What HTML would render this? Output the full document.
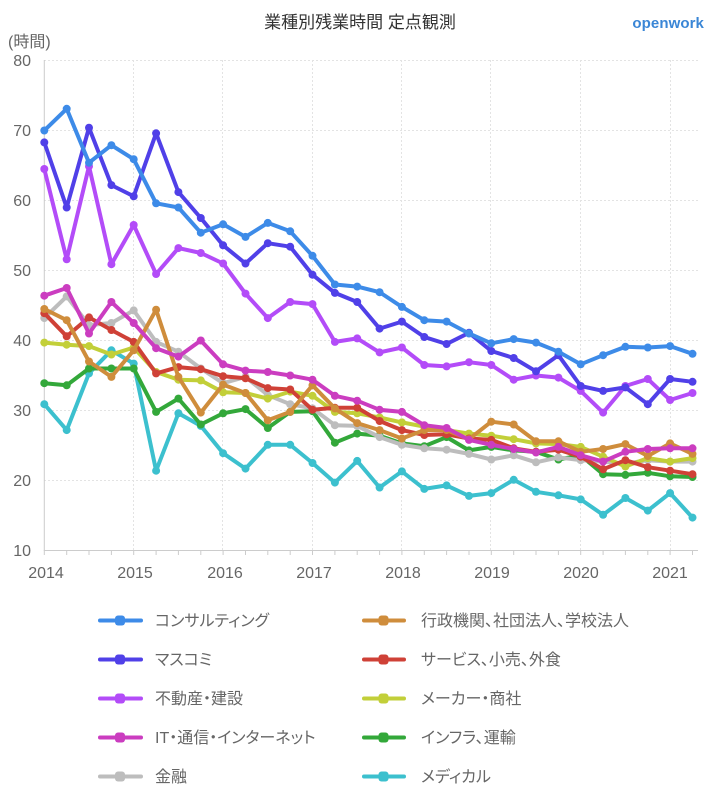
<!DOCTYPE html>
<html><head><meta charset="utf-8">
<style>
html,body{margin:0;padding:0;background:#fff;}
body{width:724px;height:800px;overflow:hidden;}
svg{display:block;}
text{font-family:"Liberation Sans","Noto Sans CJK JP",sans-serif;}
.palt{font-feature-settings:"palt" 1;}
</style></head>
<body>
<svg width="724" height="800" viewBox="0 0 724 800" xmlns="http://www.w3.org/2000/svg">
<defs>
<marker id="m0" markerUnits="userSpaceOnUse" markerWidth="10" markerHeight="10" refX="5" refY="5"><circle cx="5" cy="5" r="4" fill="#3d8be8"/></marker>
<marker id="m1" markerUnits="userSpaceOnUse" markerWidth="10" markerHeight="10" refX="5" refY="5"><circle cx="5" cy="5" r="4" fill="#5040e8"/></marker>
<marker id="m2" markerUnits="userSpaceOnUse" markerWidth="10" markerHeight="10" refX="5" refY="5"><circle cx="5" cy="5" r="4" fill="#b34cf8"/></marker>
<marker id="m3" markerUnits="userSpaceOnUse" markerWidth="10" markerHeight="10" refX="5" refY="5"><circle cx="5" cy="5" r="4" fill="#cb3dc0"/></marker>
<marker id="m4" markerUnits="userSpaceOnUse" markerWidth="10" markerHeight="10" refX="5" refY="5"><circle cx="5" cy="5" r="4" fill="#bdbdbd"/></marker>
<marker id="m5" markerUnits="userSpaceOnUse" markerWidth="10" markerHeight="10" refX="5" refY="5"><circle cx="5" cy="5" r="4" fill="#cf8d3c"/></marker>
<marker id="m6" markerUnits="userSpaceOnUse" markerWidth="10" markerHeight="10" refX="5" refY="5"><circle cx="5" cy="5" r="4" fill="#cf4137"/></marker>
<marker id="m7" markerUnits="userSpaceOnUse" markerWidth="10" markerHeight="10" refX="5" refY="5"><circle cx="5" cy="5" r="4" fill="#c2cf39"/></marker>
<marker id="m8" markerUnits="userSpaceOnUse" markerWidth="10" markerHeight="10" refX="5" refY="5"><circle cx="5" cy="5" r="4" fill="#33a83a"/></marker>
<marker id="m9" markerUnits="userSpaceOnUse" markerWidth="10" markerHeight="10" refX="5" refY="5"><circle cx="5" cy="5" r="4" fill="#3cc0ce"/></marker>
</defs>

<!-- title -->
<text x="360" y="28" font-size="17" fill="#333" text-anchor="middle" class="palt">業種別残業時間 定点観測</text>
<text x="704" y="28" font-size="15" fill="#3a86d6" text-anchor="end" font-weight="bold" letter-spacing="0.1">openwork</text>
<text x="8" y="47" font-size="16" fill="#666">(時間)</text>

<!-- grid -->
<g stroke="#e3e3e3" stroke-width="1" stroke-dasharray="2,2">
<line x1="44" y1="60.5" x2="698" y2="60.5"/>
<line x1="44" y1="130.5" x2="698" y2="130.5"/>
<line x1="44" y1="200.5" x2="698" y2="200.5"/>
<line x1="44" y1="270.5" x2="698" y2="270.5"/>
<line x1="44" y1="340.5" x2="698" y2="340.5"/>
<line x1="44" y1="410.5" x2="698" y2="410.5"/>
<line x1="44" y1="480.5" x2="698" y2="480.5"/>
<line x1="133.5" y1="60" x2="133.5" y2="550"/>
<line x1="222.5" y1="60" x2="222.5" y2="550"/>
<line x1="312.5" y1="60" x2="312.5" y2="550"/>
<line x1="401.5" y1="60" x2="401.5" y2="550"/>
<line x1="490.5" y1="60" x2="490.5" y2="550"/>
<line x1="580.5" y1="60" x2="580.5" y2="550"/>
<line x1="670.5" y1="60" x2="670.5" y2="550"/>
</g>
<g stroke="#cccccc" stroke-width="1">
<line x1="44.3" y1="60" x2="44.3" y2="551"/>
<line x1="44" y1="550.5" x2="698" y2="550.5"/>
</g>
<g stroke="#cccccc" stroke-width="1">
<line x1="44.3" y1="550" x2="44.3" y2="555"/><line x1="66.7" y1="550" x2="66.7" y2="555"/><line x1="89" y1="550" x2="89" y2="555"/><line x1="111.4" y1="550" x2="111.4" y2="555"/><line x1="133.7" y1="550" x2="133.7" y2="555"/><line x1="156.1" y1="550" x2="156.1" y2="555"/><line x1="178.4" y1="550" x2="178.4" y2="555"/><line x1="200.8" y1="550" x2="200.8" y2="555"/><line x1="223.1" y1="550" x2="223.1" y2="555"/><line x1="245.5" y1="550" x2="245.5" y2="555"/><line x1="267.8" y1="550" x2="267.8" y2="555"/><line x1="290.2" y1="550" x2="290.2" y2="555"/><line x1="312.5" y1="550" x2="312.5" y2="555"/><line x1="334.9" y1="550" x2="334.9" y2="555"/><line x1="357.2" y1="550" x2="357.2" y2="555"/><line x1="379.6" y1="550" x2="379.6" y2="555"/><line x1="401.9" y1="550" x2="401.9" y2="555"/><line x1="424.3" y1="550" x2="424.3" y2="555"/><line x1="446.6" y1="550" x2="446.6" y2="555"/><line x1="469" y1="550" x2="469" y2="555"/><line x1="491.3" y1="550" x2="491.3" y2="555"/><line x1="513.7" y1="550" x2="513.7" y2="555"/><line x1="536" y1="550" x2="536" y2="555"/><line x1="558.4" y1="550" x2="558.4" y2="555"/><line x1="580.7" y1="550" x2="580.7" y2="555"/><line x1="603.1" y1="550" x2="603.1" y2="555"/><line x1="625.4" y1="550" x2="625.4" y2="555"/><line x1="647.8" y1="550" x2="647.8" y2="555"/><line x1="670.1" y1="550" x2="670.1" y2="555"/><line x1="692.5" y1="550" x2="692.5" y2="555"/>
</g>

<!-- y labels -->
<g font-size="16" fill="#666" text-anchor="end">
<text x="31" y="66">80</text>
<text x="31" y="136">70</text>
<text x="31" y="206">60</text>
<text x="31" y="276">50</text>
<text x="31" y="346">40</text>
<text x="31" y="416">30</text>
<text x="31" y="486">20</text>
<text x="31" y="556">10</text>
</g>
<!-- x labels -->
<g font-size="16" fill="#666" text-anchor="middle">
<text x="46" y="578">2014</text>
<text x="135" y="578">2015</text>
<text x="225" y="578">2016</text>
<text x="314" y="578">2017</text>
<text x="403" y="578">2018</text>
<text x="492" y="578">2019</text>
<text x="581" y="578">2020</text>
<text x="670" y="578">2021</text>
</g>

<!-- series -->
<g fill="none" stroke-width="4" stroke-linejoin="round" stroke-linecap="round">
<polyline stroke="#3cc0ce" marker-start="url(#m9)" marker-mid="url(#m9)" marker-end="url(#m9)" points="44.3,404.2 66.7,430.1 89,373.4 111.4,350.3 133.7,363.6 156.1,470.7 178.4,413.3 200.8,425.9 223.1,453.2 245.5,468.6 267.8,444.8 290.2,444.8 312.5,463 334.9,482.6 357.2,460.9 379.6,487.5 401.9,471.4 424.3,488.9 446.6,485.4 469,495.9 491.3,493.1 513.7,479.8 536,491.8 558.4,495.3 580.7,499.4 603.1,514.8 625.4,498 647.8,510.6 670.1,493.1 692.5,517.6"/>
<polyline stroke="#33a83a" marker-start="url(#m8)" marker-mid="url(#m8)" marker-end="url(#m8)" points="44.3,383.2 66.7,385.3 89,368.5 111.4,368.5 133.7,368.5 156.1,411.9 178.4,398.6 200.8,424.5 223.1,413.3 245.5,409.1 267.8,428 290.2,411.9 312.5,411.2 334.9,442.7 357.2,433.6 379.6,435.7 401.9,443.4 424.3,446.2 446.6,437.1 469,450.4 491.3,446.9 513.7,450.4 536,451.8 558.4,459.5 580.7,455.3 603.1,474.2 625.4,474.9 647.8,472.8 670.1,476.3 692.5,477"/>
<polyline stroke="#bdbdbd" marker-start="url(#m4)" marker-mid="url(#m4)" marker-end="url(#m4)" points="44.3,318.1 66.7,296.4 89,325.1 111.4,323 133.7,310.4 156.1,341.9 178.4,351.7 200.8,368.5 223.1,383.2 245.5,376.9 267.8,395.1 290.2,404.2 312.5,408.4 334.9,425.2 357.2,425.9 379.6,437.1 401.9,444.8 424.3,448.3 446.6,449.7 469,453.9 491.3,459.5 513.7,455.3 536,462.3 558.4,457.4 580.7,460.2 603.1,461.6 625.4,463.7 647.8,460.2 670.1,461.6 692.5,461.6"/>
<polyline stroke="#c2cf39" marker-start="url(#m7)" marker-mid="url(#m7)" marker-end="url(#m7)" points="44.3,342.6 66.7,344.7 89,346.1 111.4,354.5 133.7,347.5 156.1,372 178.4,379.7 200.8,380.4 223.1,392.3 245.5,393 267.8,398.6 290.2,391.6 312.5,395.8 334.9,411.9 357.2,413.3 379.6,417.5 401.9,422.4 424.3,426.6 446.6,430.1 469,433.6 491.3,435.7 513.7,439.2 536,443.4 558.4,444.1 580.7,446.9 603.1,456.7 625.4,466.5 647.8,458.1 670.1,461.6 692.5,458.1"/>
<polyline stroke="#cf4137" marker-start="url(#m6)" marker-mid="url(#m6)" marker-end="url(#m6)" points="44.3,313.2 66.7,336.3 89,317.4 111.4,330 133.7,341.9 156.1,373.4 178.4,367.1 200.8,369.2 223.1,376.2 245.5,378.3 267.8,388.1 290.2,389.5 312.5,409.8 334.9,407.7 357.2,407.7 379.6,421 401.9,430.1 424.3,435 446.6,434.3 469,438.5 491.3,439.9 513.7,448.3 536,451.8 558.4,449.7 580.7,456.7 603.1,469.3 625.4,460.2 647.8,467.2 670.1,470.7 692.5,474.2"/>
<polyline stroke="#cf8d3c" marker-start="url(#m5)" marker-mid="url(#m5)" marker-end="url(#m5)" points="44.3,309 66.7,320.2 89,361.5 111.4,376.9 133.7,350.3 156.1,309.7 178.4,376.9 200.8,412.6 223.1,384.6 245.5,393 267.8,420.3 290.2,411.9 312.5,385.3 334.9,408.4 357.2,423.1 379.6,430.1 401.9,438.5 424.3,430.1 446.6,430.1 469,439.2 491.3,421.7 513.7,424.5 536,441.3 558.4,441.3 580.7,451.8 603.1,449 625.4,444.1 647.8,456 670.1,443.4 692.5,453.9"/>
<polyline stroke="#cb3dc0" marker-start="url(#m3)" marker-mid="url(#m3)" marker-end="url(#m3)" points="44.3,295.7 66.7,288 89,333.5 111.4,302 133.7,323 156.1,348.2 178.4,356.6 200.8,340.5 223.1,364.3 245.5,370.6 267.8,372 290.2,375.5 312.5,379.7 334.9,395.8 357.2,400.7 379.6,409.8 401.9,411.9 424.3,425.2 446.6,428 469,439.9 491.3,444.8 513.7,449 536,452.5 558.4,446.9 580.7,455.3 603.1,461.6 625.4,451.8 647.8,449 670.1,448.3 692.5,448.3"/>
<polyline stroke="#b34cf8" marker-start="url(#m2)" marker-mid="url(#m2)" marker-end="url(#m2)" points="44.3,169 66.7,259.3 89,166.2 111.4,264.2 133.7,225 156.1,274 178.4,248.1 200.8,253 223.1,263.5 245.5,293.6 267.8,318.1 290.2,302 312.5,304.1 334.9,341.9 357.2,338.4 379.6,352.4 401.9,347.5 424.3,365 446.6,366.4 469,362.2 491.3,365 513.7,379.7 536,375.5 558.4,377.6 580.7,390.9 603.1,412.6 625.4,386 647.8,379 670.1,400 692.5,393"/>
<polyline stroke="#5040e8" marker-start="url(#m1)" marker-mid="url(#m1)" marker-end="url(#m1)" points="44.3,142.4 66.7,207.5 89,127.7 111.4,185.1 133.7,196.3 156.1,133.3 178.4,192.1 200.8,218 223.1,245.3 245.5,263.5 267.8,243.2 290.2,246.7 312.5,274.7 334.9,292.9 357.2,302 379.6,328.6 401.9,321.6 424.3,337 446.6,344 469,332.8 491.3,351 513.7,358 536,371.3 558.4,355.2 580.7,386 603.1,390.9 625.4,387.4 647.8,404.2 670.1,379 692.5,381.8"/>
<polyline stroke="#3d8be8" marker-start="url(#m0)" marker-mid="url(#m0)" marker-end="url(#m0)" points="44.3,130.5 66.7,108.8 89,162.7 111.4,145.2 133.7,159.2 156.1,203.3 178.4,207.5 200.8,232.7 223.1,224.3 245.5,236.9 267.8,222.9 290.2,231.3 312.5,255.8 334.9,284.5 357.2,286.6 379.6,292.2 401.9,306.9 424.3,320.2 446.6,321.6 469,333.5 491.3,343.3 513.7,339.1 536,342.6 558.4,351.7 580.7,364.3 603.1,355.2 625.4,346.8 647.8,347.5 670.1,346.1 692.5,353.8"/>
</g>

<!-- legend -->
<g stroke-width="4" stroke-linecap="round">
<line x1="100" y1="620.5" x2="141" y2="620.5" stroke="#3d8be8"/>
<line x1="100" y1="659.5" x2="141" y2="659.5" stroke="#5040e8"/>
<line x1="100" y1="698.5" x2="141" y2="698.5" stroke="#b34cf8"/>
<line x1="100" y1="737.5" x2="141" y2="737.5" stroke="#cb3dc0"/>
<line x1="100" y1="776.5" x2="141" y2="776.5" stroke="#bdbdbd"/>
<line x1="364" y1="620.5" x2="404" y2="620.5" stroke="#cf8d3c"/>
<line x1="364" y1="659.5" x2="404" y2="659.5" stroke="#cf4137"/>
<line x1="364" y1="698.5" x2="404" y2="698.5" stroke="#c2cf39"/>
<line x1="364" y1="737.5" x2="404" y2="737.5" stroke="#33a83a"/>
<line x1="364" y1="776.5" x2="404" y2="776.5" stroke="#3cc0ce"/>
</g>
<g>
<rect x="115" y="615.5" width="10" height="10" rx="3" fill="#3d8be8"/>
<rect x="115" y="654.5" width="10" height="10" rx="3" fill="#5040e8"/>
<rect x="115" y="693.5" width="10" height="10" rx="3" fill="#b34cf8"/>
<rect x="115" y="732.5" width="10" height="10" rx="3" fill="#cb3dc0"/>
<rect x="115" y="771.5" width="10" height="10" rx="3" fill="#bdbdbd"/>
<rect x="378.5" y="615.5" width="10" height="10" rx="3" fill="#cf8d3c"/>
<rect x="378.5" y="654.5" width="10" height="10" rx="3" fill="#cf4137"/>
<rect x="378.5" y="693.5" width="10" height="10" rx="3" fill="#c2cf39"/>
<rect x="378.5" y="732.5" width="10" height="10" rx="3" fill="#33a83a"/>
<rect x="378.5" y="771.5" width="10" height="10" rx="3" fill="#3cc0ce"/>
</g>
<g font-size="16" fill="#666" class="palt">
<text x="155" y="626">コンサルティング</text>
<text x="155" y="665">マスコミ</text>
<text x="155" y="704">不動産・建設</text>
<text x="155" y="743">IT・通信・インターネット</text>
<text x="155" y="782">金融</text>
<text x="421" y="626">行政機関、社団法人、学校法人</text>
<text x="421" y="665">サービス、小売、外食</text>
<text x="421" y="704">メーカー・商社</text>
<text x="421" y="743">インフラ、運輸</text>
<text x="421" y="782">メディカル</text>
</g>
</svg>
</body></html>
